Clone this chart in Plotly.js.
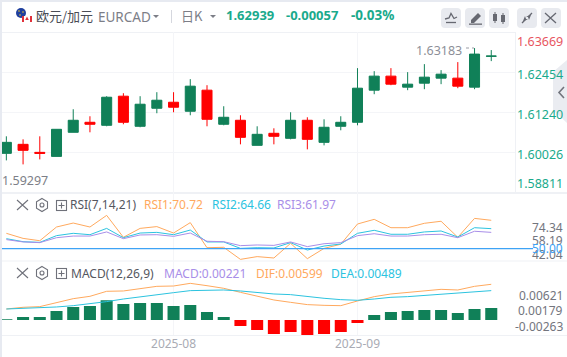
<!DOCTYPE html>
<html>
<head>
<meta charset="utf-8">
<script src="https://cdn.plot.ly/plotly-3.0.1.min.js"></script>
<style>html,body{margin:0;padding:0;background:#fff;overflow:hidden}#chart{width:567px;height:357px}</style>
</head>
<body>
<div id="chart"></div>
<script>
const open = [1.59996,1.60269,1.60026,1.59904,1.60633,1.60936,1.60845,1.61726,1.60815,1.61361,1.61543,1.61270,1.61908,1.60876,1.60997,1.60238,1.60603,1.60451,1.60997,1.60329,1.60815,1.60936,1.61908,1.62333,1.61999,1.62120,1.62272,1.62272,1.61999,1.62936];
const high = [1.60512,1.60420,1.60512,1.60724,1.61331,1.61119,1.61726,1.61817,1.61726,1.61847,1.61847,1.62242,1.62059,1.61422,1.61149,1.60815,1.60754,1.61240,1.61088,1.61027,1.61119,1.62575,1.62484,1.62575,1.62454,1.62697,1.62515,1.62758,1.63182,1.63122];
const low = [1.59783,1.59662,1.59813,1.59904,1.60633,1.60633,1.60815,1.60876,1.60785,1.61210,1.61240,1.61149,1.60815,1.60845,1.60269,1.60238,1.60269,1.60420,1.60117,1.60238,1.60694,1.60845,1.61786,1.62059,1.61908,1.61938,1.62090,1.61968,1.61938,1.62788];
const close = [1.60329,1.60087,1.59996,1.60724,1.60997,1.60876,1.61695,1.60936,1.61483,1.61604,1.61392,1.62029,1.61027,1.61088,1.60481,1.60572,1.60512,1.60997,1.60420,1.60785,1.60936,1.61968,1.62333,1.62090,1.62090,1.62302,1.62393,1.62029,1.63000,1.62939];

const rsi1 = [61.2,57.5,55.8,65.8,68.7,65.8,74.3,58.3,64.8,66.1,61.4,69.0,50.7,51.0,42.2,44.2,43.2,53.9,42.7,50.2,53.2,68.0,71.4,65.3,65.3,68.5,70.0,58.3,72.1,70.7];
const rsi2 = [57.3,55.1,54.6,59.5,61.2,60.2,64.8,58.0,61.4,61.9,60.2,63.6,54.9,54.9,50.2,50.7,50.5,54.4,49.0,51.9,53.4,61.2,63.4,60.5,60.5,62.2,62.9,58.5,65.3,64.6];
const rsi3 = [56.6,54.9,54.4,58.0,59.2,59.2,62.2,57.3,60.0,60.2,59.0,61.4,55.4,55.1,52.2,52.7,52.4,54.9,51.5,53.6,54.4,59.5,60.9,59.2,59.2,60.2,60.5,58.0,62.7,61.9];
const rsiLevel = 50;

const macdBars = [0.00015,0.00055,0.00055,0.00165,0.00238,0.00256,0.0036,0.00293,0.00311,0.00311,0.00256,0.00275,0.00146,0.00055,-0.0011,-0.00183,-0.00256,-0.0022,-0.00275,-0.00256,-0.0022,-0.00055,0.00092,0.00146,0.00165,0.00183,0.00183,0.00128,0.00201,0.0022];
const dif = [0.00201,0.00232,0.00244,0.00317,0.0039,0.00433,0.00525,0.00531,0.0058,0.00616,0.00622,0.00671,0.00628,0.0058,0.00506,0.00433,0.00366,0.00323,0.00281,0.00268,0.00262,0.00348,0.00427,0.00476,0.005,0.00537,0.00561,0.00549,0.00616,0.00653];
const dea = [0.00201,0.00214,0.00214,0.00238,0.00262,0.00293,0.00336,0.00384,0.00427,0.0047,0.005,0.00537,0.00549,0.00549,0.00531,0.005,0.00476,0.00464,0.00427,0.00397,0.00372,0.0036,0.00384,0.00415,0.00427,0.00451,0.0047,0.00488,0.00512,0.00537];

const monthTickIndex = [10,21];
const monthTickText = ['2025-08','2025-09'];

const priceLabels = ['1.63669','1.62454','1.61240','1.60026','1.58811'];
const priceGrid = [1.63669,1.62454,1.61240,1.60026,1.58811];

const W = 567, H = 357;
const GREEN = '#108058', RED = '#ff0000', ORANGE = '#ffa95e', CYAN = '#2cc3df', PURPLE = '#a88ee8', BLUE = '#3ea3f5';
const GRID = '#f4f5f8', SEP = '#eff1f5', GRAY = '#73757e', UP = '#1aaa8c';
const LATIN = '"Noto Sans","Noto Sans CJK SC",sans-serif';
const px = x => x / W, py = y => 1 - y / H;
const idx = open.map((_, i) => i);

function note(text, x, y, color, size, anchor, bold, family) {
  return {text: bold ? '<b>' + text + '</b>' : text, xref: 'paper', yref: 'paper', x: px(x), y: py(y),
    xanchor: anchor || 'left', yanchor: 'middle', showarrow: false, borderpad: 0, borderwidth: 0,
    font: {family: family || LATIN, size: size || 12, color: color}};
}

const annotations = [
  note('欧元/加元', 36, 15.5, '#4a4c55', 13, 'left', false, '"Noto Sans CJK SC",sans-serif'),
  note('EURCAD', 98, 17, '#7c7e87', 13.5),
  note('日K', 181, 15.5, '#7c7e87', 13, 'left', false, '"Noto Sans CJK SC",sans-serif'),
  note('1.62939', 226, 15, UP, 13, 'left', true),
  note('-0.00057', 286, 15, UP, 13, 'left', true),
  note('-0.03%', 351, 15, UP, 13.5, 'left', true),
  note('1.63183', 416, 51, '#8d8f98', 12.5),
  note('1.59297', 2, 180, '#7d7f88', 12.5),
  note(priceLabels[0], 563, 41, '#e8565f', 12.5, 'right'),
  note(priceLabels[1], 563, 74, UP, 12.5, 'right'),
  note(priceLabels[2], 563, 114.5, UP, 12.5, 'right'),
  note(priceLabels[3], 563, 154.5, UP, 12.5, 'right'),
  note(priceLabels[4], 563, 184, UP, 12.5, 'right'),
  note('RSI(7,14,21)', 70, 205, '#55575f', 12),
  note('RSI1:70.72', 144, 205, ORANGE, 12),
  note('RSI2:64.66', 211.5, 205, CYAN, 12),
  note('RSI3:61.97', 277, 205, PURPLE, 12),
  note('MACD(12,26,9)', 71, 273.5, '#55575f', 12),
  note('MACD:0.00221', 163.5, 273.5, PURPLE, 12),
  note('DIF:0.00599', 256, 273.5, ORANGE, 12),
  note('DEA:0.00489', 330.5, 273.5, CYAN, 12),
  note('74.34', 563, 227.7, GRAY, 12, 'right'),
  note('58.19', 563, 240.7, GRAY, 12, 'right'),
  note('42.04', 563, 254, GRAY, 12, 'right'),
  note('50.00', 563, 248.7, BLUE, 12, 'right'),
  note('0.00621', 563, 295.3, GRAY, 12, 'right'),
  note('0.00179', 563, 310.7, GRAY, 12, 'right'),
  note('-0.00263', 563, 326.7, GRAY, 12, 'right')
];

function sepLine(y, x0, x1, color) {
  return {type: 'line', xref: 'paper', yref: 'paper', x0: px(x0), x1: px(x1), y0: py(y), y1: py(y), line: {color: color || SEP, width: 1}, layer: 'below'};
}
const shapes = [
  sepLine(32.5, 2, 515), sepLine(192.5, 2, W), sepLine(193.5, 2, W), sepLine(261, 2, W), sepLine(335.5, 2, W),
  {type: 'line', xref: 'paper', yref: 'paper', x0: px(515.5), x1: px(515.5), y0: py(32), y1: py(193), line: {color: SEP, width: 1}, layer: 'below'},
  {type: 'line', xref: 'paper', yref: 'y2', x0: px(2), x1: px(533), y0: rsiLevel, y1: rsiLevel, line: {color: BLUE, width: 1.2}, layer: 'above'},
  {type: 'line', xref: 'paper', yref: 'paper', x0: px(466), x1: px(474), y0: py(48), y1: py(48), line: {color: '#9a9ca5', width: 1, dash: 'dot'}, layer: 'above'}
];

const icons = `<svg xmlns="http://www.w3.org/2000/svg" width="567" height="357" viewBox="0 0 567 357">
<rect x="0" y="0" width="567" height="2" fill="#e7eaf1"/><rect x="0" y="0" width="2" height="357" fill="#e7eaf1"/>
<path d="M567 60L553 72V110L567 123Z" fill="#eaecf1"/><path d="M564 87L559 92.5L564 98" fill="none" stroke="#72747d" stroke-width="1.6"/>
<circle cx="21" cy="13" r="5" fill="#1f3f9e"/><circle cx="19" cy="11" r=".8" fill="#e8c930"/><circle cx="23" cy="12" r=".8" fill="#e8c930"/><circle cx="20" cy="15" r=".8" fill="#e8c930"/>
<rect x="22" y="16" width="10" height="6" fill="#fff"/><rect x="22" y="16" width="2" height="6" fill="#e0313a"/><rect x="30" y="16" width="2" height="6" fill="#e0313a"/><path d="M27 16.5L28.8 20H25.2Z" fill="#e0313a"/>
<path d="M153 15h6l-3 3z" fill="#7c7e87"/><rect x="171" y="10" width="1" height="13" fill="#d5d7de"/><path d="M210 15h6l-3 3z" fill="#7c7e87"/>
<g fill="#e8eaef"><rect x="441" y="8" width="20" height="20" rx="4"/><rect x="465" y="8" width="20" height="20" rx="4"/><rect x="489" y="8" width="20" height="20" rx="4"/><rect x="517" y="8" width="20" height="20" rx="4"/><rect x="541" y="8" width="20" height="20" rx="4"/></g>
<g fill="none" stroke="#666871" stroke-width="1.3"><path d="M445 19L449 18L451 13.500L454 18.500L457 17"/><path d="M446 22.500H456"/><path d="M522 23L526 19M532 13L528 17"/><path d="M545 13L556 23M556 13L545 23"/></g>
<path d="M471 20L478 13L481 16L474 23H471Z" fill="#666871"/><rect x="469" y="23.500" width="13" height="1.300" fill="#666871"/>
<g fill="#666871"><rect x="493" y="14" width="4" height="7"/><rect x="494.500" y="12" width="1" height="11"/><rect x="501" y="15" width="4" height="7"/><rect x="502.500" y="13" width="1" height="11"/></g>
<path d="M526 19l-1-3-2 5 5-1.500zM528 17l1 3 2-5-5 1.500z" fill="#666871"/>
<g fill="none" stroke="#6f717a" stroke-width="1.1">
<path d="M17 200L28 210M28 200L17 210"/><path d="M42 198.500L47.500 201.700V208.300L42 211.500L36.500 208.300V201.700Z"/><circle cx="42" cy="205" r="2"/><rect x="56.500" y="200.500" width="10" height="10"/><path d="M61.500 202.500V208.500M58.500 205.500H64.500"/>
<path d="M17 268L28 278M28 268L17 278"/><path d="M42 266.500L47.500 269.700V276.300L42 279.500L36.500 276.300V269.700Z"/><circle cx="42" cy="273" r="2"/><rect x="56.500" y="268.500" width="10" height="10"/><path d="M61.500 270.500V276.500M58.500 273.500H64.500"/>
</g></svg>`;

const images = [{source: 'data:image/svg+xml;charset=utf-8,' + encodeURIComponent(icons), xref: 'paper', yref: 'paper', x: 0, y: 1, sizex: 1, sizey: 1, sizing: 'stretch', xanchor: 'left', yanchor: 'top', layer: 'below'}];

function rsiLine(y, color) { return {type: 'scatter', mode: 'lines', x: idx, y: y, xaxis: 'x', yaxis: 'y2', line: {color: color, width: 1}, hoverinfo: 'skip'}; }
function macdLine(y, color) { return {type: 'scatter', mode: 'lines', x: idx, y: y, xaxis: 'x', yaxis: 'y3', line: {color: color, width: 1}, hoverinfo: 'skip'}; }

const traces = [
  {type: 'candlestick', x: idx, open: open, high: high, low: low, close: close, xaxis: 'x', yaxis: 'y', whiskerwidth: 0,
   increasing: {line: {color: GREEN, width: 1}, fillcolor: GREEN}, decreasing: {line: {color: RED, width: 1}, fillcolor: RED}},
  rsiLine(rsi1, ORANGE), rsiLine(rsi2, CYAN), rsiLine(rsi3, PURPLE),
  {type: 'bar', x: idx, y: macdBars, xaxis: 'x', yaxis: 'y3', marker: {color: macdBars.map(v => v >= 0 ? GREEN : RED), line: {width: 0}}, hoverinfo: 'skip'},
  macdLine(dif, ORANGE), macdLine(dea, CYAN)
];

const layout = {
  width: W, height: H, margin: {l: 0, r: 0, t: 0, b: 0, pad: 0},
  paper_bgcolor: '#fff', plot_bgcolor: 'rgba(0,0,0,0)', showlegend: false, dragmode: false, hovermode: false,
  boxmode: 'overlay', boxgap: 0.4, boxgroupgap: 0, bargap: 0.28,
  xaxis: {domain: [px(2), px(515)], range: [-0.26, 30.42], anchor: 'y3', tickmode: 'array', tickvals: monthTickIndex, ticktext: monthTickText,
    showgrid: true, gridcolor: GRID, gridwidth: 1, zeroline: false, showline: false, ticks: '', ticklen: 0,
    tickfont: {family: LATIN, size: 12, color: '#a9abb4'}, rangeslider: {visible: false}, fixedrange: true},
  yaxis: {domain: [py(192.5), py(32)], range: [1.58811, 1.63669], tickmode: 'array', tickvals: priceGrid, showticklabels: false, showgrid: true, gridcolor: GRID, gridwidth: 1, zeroline: false, ticks: '', fixedrange: true},
  yaxis2: {domain: [py(261), py(193.3)], range: [41.0, 90.4], showticklabels: false, showgrid: false, zeroline: false, ticks: '', fixedrange: true},
  yaxis3: {domain: [py(335.3), py(261)], range: [-0.00281, 0.0108], showticklabels: false, showgrid: false, zeroline: false, ticks: '', fixedrange: true},
  annotations: annotations, shapes: shapes, images: images
};

Plotly.newPlot('chart', traces, layout, {displayModeBar: false, staticPlot: true});
</script>
</body>
</html>
